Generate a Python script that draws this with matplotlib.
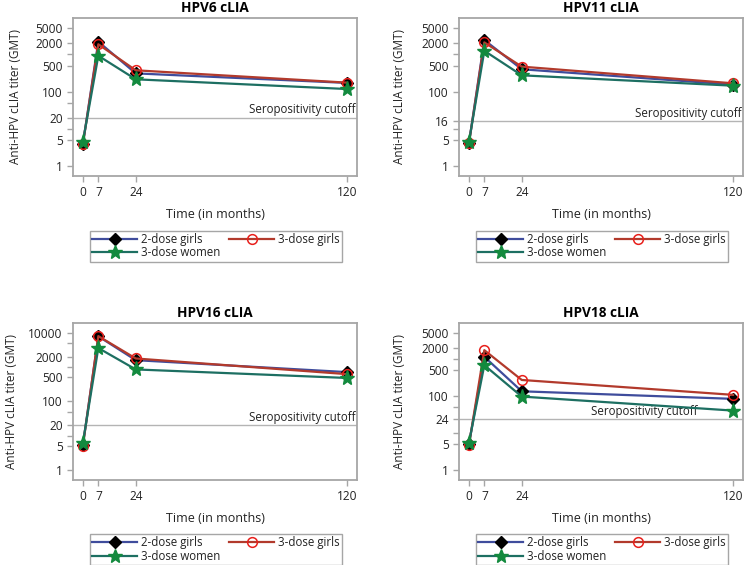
import matplotlib
matplotlib.use('Agg')
import matplotlib.pyplot as plt
from matplotlib.lines import Line2D

plt.rcParams['font.family'] = ['Open Sans', 'DejaVu Sans']

# 데이터
months = [0, 7, 24, 120]
panel_titles = ['HPV6 cLIA', 'HPV11 cLIA', 'HPV16 cLIA', 'HPV18 cLIA']

girls_2dose = {
    'HPV6 cLIA': [4.0, 2200, 310, 172],
    'HPV11 cLIA': [4.1, 2430, 400, 155],
    'HPV16 cLIA': [5.4, 7800, 1580, 710],
    'HPV18 cLIA': [5.0, 1160, 136, 85],
}
girls_3dose = {
    'HPV6 cLIA': [4.0, 1870, 375, 175],
    'HPV11 cLIA': [4.1, 2100, 470, 168],
    'HPV16 cLIA': [5.2, 7900, 1770, 620],
    'HPV18 cLIA': [4.8, 1750, 275, 109],
}
women_3dose = {
    'HPV6 cLIA': [4.6, 920, 215, 118],
    'HPV11 cLIA': [4.4, 1250, 275, 145],
    'HPV16 cLIA': [6.3, 3560, 850, 480],
    'HPV18 cLIA': [5.5, 690, 98, 41],
}
cutoffs = {'HPV6 cLIA': 20, 'HPV11 cLIA': 16, 'HPV16 cLIA': 20, 'HPV18 cLIA': 24}

ytick_labelled = {
    'HPV6 cLIA': [1, 5, 20, 100, 500, 2000, 5000],
    'HPV11 cLIA': [1, 5, 16, 100, 500, 2000, 5000],
    'HPV16 cLIA': [1, 5, 20, 100, 500, 2000, 10000],
    'HPV18 cLIA': [1, 5, 24, 100, 500, 2000, 5000],
}
ytick_blank = {
    'HPV6 cLIA': [10, 50, 1000],
    'HPV11 cLIA': [10, 1000],
    'HPV16 cLIA': [10, 50, 1000, 5000],
    'HPV18 cLIA': [10, 50, 1000],
}

# 레이아웃 (픽셀 단위: left, top, right, bottom)
W, H = 745, 565
boxes = {
    'HPV6 cLIA': (73, 18, 357, 176),
    'HPV11 cLIA': (459, 18, 743, 176),
    'HPV16 cLIA': (73, 323, 357, 480),
    'HPV18 cLIA': (459, 323, 743, 480),
}
ylims = {
    'HPV6 cLIA': (0.55, 9460),
    'HPV11 cLIA': (0.55, 9460),
    'HPV16 cLIA': (0.52, 19000),
    'HPV18 cLIA': (0.55, 9460),
}
cut_text_x = {'HPV6 cLIA': 124, 'HPV11 cLIA': 124, 'HPV16 cLIA': 124, 'HPV18 cLIA': 104}
ylab_x = {'HPV6 cLIA': -0.181, 'HPV11 cLIA': -0.186, 'HPV16 cLIA': -0.195, 'HPV18 cLIA': -0.186}

frame_col = '#a6a6a6'
txt_col = '#222222'
c_blue = '#3f4c9c'
c_red = '#b23a2c'
c_teal = '#1d6f62'
fs = 8.3

fig = plt.figure(figsize=(W / 100, H / 100), dpi=100)

for name in panel_titles:
    l, t, r, b = boxes[name]
    ax = fig.add_axes([l / W, 1 - b / H, (r - l) / W, (b - t) / H])
    ax.set_yscale('log')

    ax.axhline(cutoffs[name], color='#b4b4b4', lw=1.0, zorder=1)
    ax.text(cut_text_x[name], cutoffs[name] * 1.1, 'Seropositivity cutoff',
            ha='right', va='bottom', fontsize=fs, color=txt_col)

    ax.plot(months, girls_2dose[name], color=c_blue, lw=1.6, marker='D',
            ms=6.5, mfc='black', mec='black', zorder=3)
    ax.plot(months, girls_3dose[name], color=c_red, lw=1.6, marker='o',
            ms=7, mfc='none', mec='#e8201c', mew=1.1, zorder=4)
    ax.plot(months, women_3dose[name], color=c_teal, lw=1.6, marker='*',
            ms=11, mfc='#138a3e', mec='#138a3e', zorder=5)

    ax.set_xlim(-4.5, 124.5)
    ax.set_ylim(*ylims[name])
    ax.set_xticks(months)
    ax.set_xticklabels([str(m) for m in months])
    ticks = sorted(ytick_labelled[name] + ytick_blank[name])
    ax.set_yticks(ticks)
    ax.set_yticklabels([str(v) if v in ytick_labelled[name] else '' for v in ticks])
    ax.yaxis.set_minor_locator(matplotlib.ticker.NullLocator())

    for s in ax.spines.values():
        s.set_color(frame_col)
        s.set_linewidth(1.3)
    ax.tick_params(length=4.5, width=1, color=frame_col, labelsize=fs + 0.3,
                   labelcolor=txt_col, pad=3)

    ax.set_title(name, fontsize=9.8, fontweight='bold', pad=4.5, color='black')
    ax.set_ylabel('Anti-HPV cLIA titer (GMT)', fontsize=fs + 0.2, color=txt_col)
    ax.yaxis.set_label_coords(ylab_x[name], 0.5)
    ax.set_xlabel('Time (in months)', fontsize=fs + 0.7, color=txt_col, va='top')
    ax.xaxis.set_label_coords(0.5, -0.205)

    handles = [
        Line2D([], [], color=c_blue, lw=1.6, marker='D', ms=6, mfc='black', mec='black'),
        Line2D([], [], color=c_teal, lw=1.6, marker='*', ms=10, mfc='#138a3e', mec='#138a3e'),
        Line2D([], [], color=c_red, lw=1.6, marker='o', ms=7, mfc='none', mec='#e8201c', mew=1.1),
    ]
    leg = ax.legend(handles, ['2-dose girls', '3-dose women', '3-dose girls'],
                    ncol=2, loc='upper center', bbox_to_anchor=(0.503, -0.345),
                    fontsize=fs, frameon=True, fancybox=False, framealpha=1,
                    edgecolor=frame_col, handlelength=3.9, handletextpad=0.3,
                    columnspacing=0.8, labelspacing=0.05, borderpad=0.2,
                    borderaxespad=0)
    leg.get_frame().set_linewidth(1.0)
    for tx in leg.get_texts():
        tx.set_color(txt_col)

fig.savefig('out.png', dpi=100)
